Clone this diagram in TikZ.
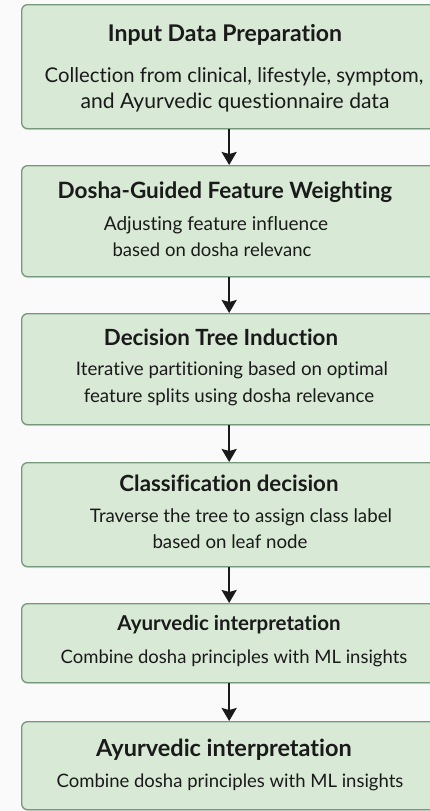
\documentclass[tikz,border=0pt]{standalone}
\usepackage{fontspec}
\setmainfont{Lato}[Ligatures=NoCommon]
\usetikzlibrary{arrows.meta,shadows}
\definecolor{boxfill}{HTML}{D8EAD5}
\definecolor{boxline}{HTML}{76987C}
\definecolor{bg}{HTML}{FBFAFA}
\definecolor{txt}{HTML}{1A1A1A}
\tikzset{
  stepbox/.style={draw=boxline, line width=1.3pt, fill=boxfill, rounded corners=6pt,
    minimum width=415pt, inner sep=0pt, anchor=north west,
    drop shadow={opacity=0.18, shadow xshift=0pt, shadow yshift=-1.5pt}},
  ttl/.style={font=\fontsize{22.5}{26}\selectfont\bfseries, text=txt, inner sep=0pt},
  body/.style={font=\fontsize{18.7}{22}\selectfont, text=txt, inner sep=0pt},
  flow/.style={-{Stealth[inset=2pt,length=13pt,width=15pt]}, line width=2.3pt, draw=txt},
}
\begin{document}
\begin{tikzpicture}[x=1pt,y=-1pt]
\fill[bg] (0,0) rectangle (430,811);
\useasboundingbox (0,0) rectangle (430,811);
\clip (0,0) rectangle (430,811);
% boxes
\node[stepbox, minimum height=124pt] (b1) at (21,4) {};
\node[stepbox, minimum height=111pt] (b2) at (21,165) {};
\node[stepbox, minimum height=111pt] (b3) at (21,313) {};
\node[stepbox, minimum height=104pt] (b4) at (21,462) {};
\node[stepbox, minimum height=79pt] (b5) at (21,603) {};
\node[stepbox, minimum height=88pt] (b6) at (21,721) {};
% texts
\node[ttl, font=\fontsize{23}{26}\selectfont\bfseries] (t1) at (225,35) {Input Data Preparation};
\node[body, font=\fontsize{20.3}{24}\selectfont] (d1a) at (234,77) {Collection from clinical, lifestyle, symptom,};
\node[body, font=\fontsize{21.1}{24}\selectfont] (d1b) at (235,103) {and Ayurvedic questionnaire data};
\node[ttl] (t2) at (225,192) {Dosha-Guided Feature Weighting};
\node[body, font=\fontsize{19}{22}\selectfont] (d2a) at (216,225) {Adjusting feature influence};
\node[body, font=\fontsize{18.5}{22}\selectfont] (d2b) at (212,250) {based on dosha relevanc};
\node[ttl, font=\fontsize{22.3}{26}\selectfont\bfseries] (t3) at (221,337) {Decision Tree Induction};
\node[body] (d3a) at (232,370) {Iterative partitioning based on optimal};
\node[body] (d3b) at (229,397) {feature splits using dosha relevance};
\node[ttl, font=\fontsize{22.3}{26}\selectfont\bfseries] (t4) at (229,483) {Classification decision};
\node[body] (d4a) at (241,517) {Traverse the tree to assign class label};
\node[body] (d4b) at (230,542) {based on leaf node};
\node[ttl, font=\fontsize{20.5}{24}\selectfont\bfseries] (t5) at (229,625) {Ayurvedic interpretation};
\node[body, font=\fontsize{18.5}{22}\selectfont] (d5a) at (234,658) {Combine dosha principles with ML insights};
\node[ttl, font=\fontsize{23.5}{27}\selectfont\bfseries] (t6) at (224,750) {Ayurvedic interpretation};
\node[body, font=\fontsize{18.5}{22}\selectfont] (d6a) at (230,782) {Combine dosha principles with ML insights};
% arrows
\draw[flow] (b1.south) -- (b2.north);
\draw[flow] (b2.south) -- (b3.north);
\draw[flow] (b3.south) -- (b4.north);
\draw[flow] (b4.south) -- (b5.north);
\draw[flow] (b5.south) -- (b6.north);
\end{tikzpicture}
\end{document}
